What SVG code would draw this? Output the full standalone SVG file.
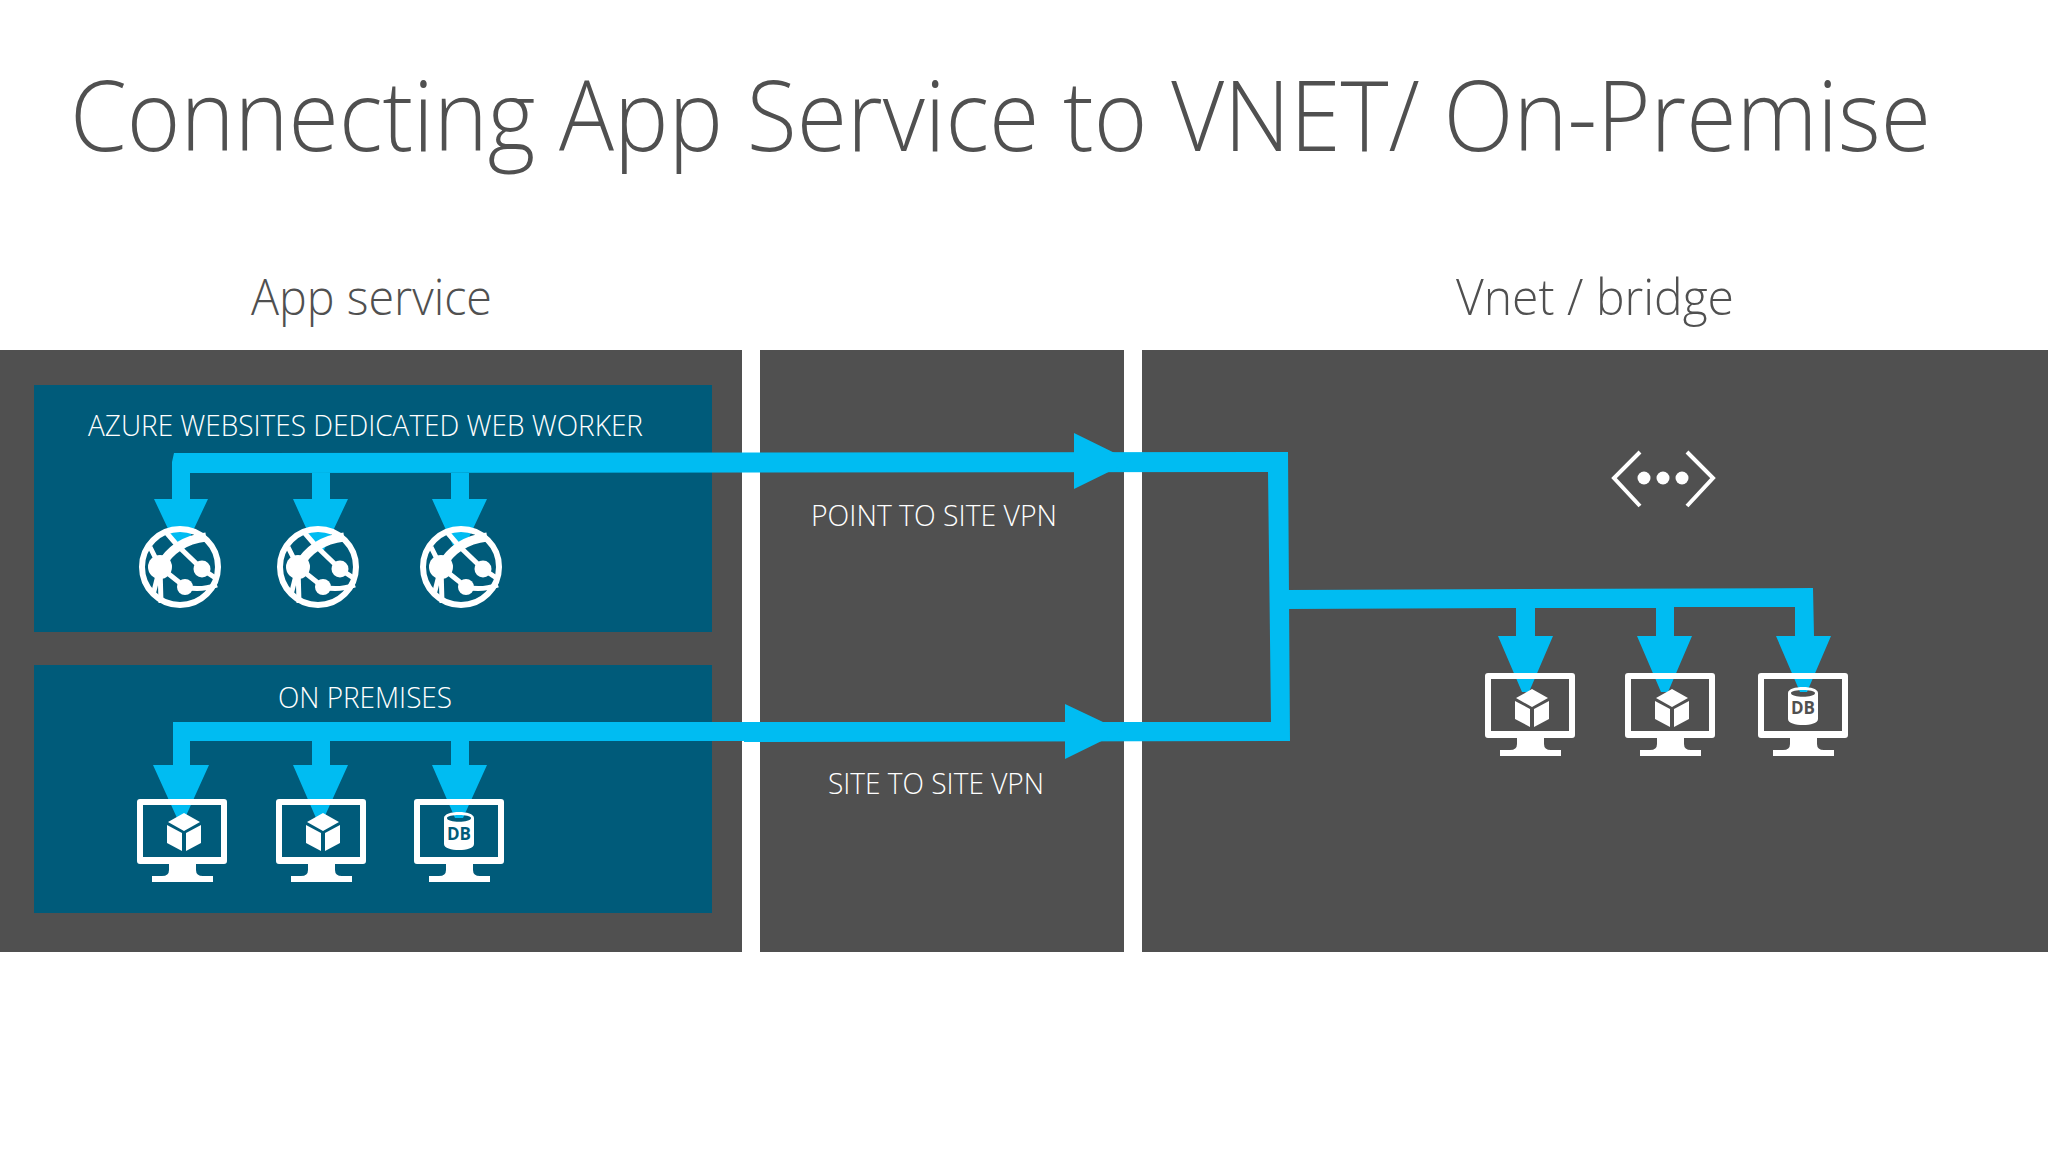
<svg xmlns="http://www.w3.org/2000/svg" width="2048" height="1152" viewBox="0 0 2048 1152">
<style>
.t{font-family:"Open Sans","Noto Sans","Liberation Sans",sans-serif;font-weight:300}
.title{font-size:98px;fill:#505050}
.sub{font-size:49px;fill:#505050}
.lb{font-size:30px;fill:#fff}
.db{font-family:"Open Sans","Liberation Sans",sans-serif;font-weight:700;font-size:17px;text-anchor:middle}
.panel{fill:#505050}
.box{fill:#005b7a}
.flow{fill:#00bcf2}
.icon{fill:#fff}
</style>
<defs>
<g id="monitor"><path class="icon" fill-rule="evenodd" d="M3 0H87a3 3 0 0 1 3 3V62a3 3 0 0 1-3 3H59V71q0 6 7 6H76V83H15V77H25q7 0 7-6V65H3a3 3 0 0 1-3-3V3a3 3 0 0 1 3-3ZM6 6V58H84V6Z"/></g>
<g id="cube"><path class="icon" d="M0-19L16-10 0-1-16-10ZM-17-7L-2 1V19L-17 11ZM17-7V11L2 19V1Z"/></g>
<g id="db"><path class="icon" fill-rule="evenodd" d="M-15-13C-15-21 15-21 15-13V13C15 21-15 21-15 13ZM-12-13C-12-8 12-8 12-13 12-17-12-17-12-13Z"/></g>
<g id="globe"><circle r="38" fill="none" stroke="#fff" stroke-width="6"/><path fill="none" stroke="#fff" stroke-width="5" d="M-15-36L-3-22 22 2 37 12M-20 0L5 20Q20 24 37 18M-20 0L-30-20M-20 0L-27 28M-20 0L-19 36"/><path fill="none" stroke="#fff" stroke-width="9" d="M-20 0Q-6-26 26-30"/><circle cx="-20" cy="0" r="12" class="icon"/><circle cx="22" cy="2" r="8.5" class="icon"/><circle cx="5" cy="20" r="8" class="icon"/></g>
</defs>
<rect width="2048" height="1152" fill="#fff"/>
<text class="t title" x="70" y="151" textLength="1861" lengthAdjust="spacingAndGlyphs">Connecting App Service to VNET/ On-Premise</text>
<text class="t sub" x="251" y="315" textLength="241" lengthAdjust="spacingAndGlyphs">App service</text>
<text class="t sub" x="1456" y="315" textLength="278" lengthAdjust="spacingAndGlyphs">Vnet / bridge</text>
<g id="panel-left"><rect class="panel" x="0" y="350" width="742" height="602"/></g>
<g id="panel-middle"><rect class="panel" x="760" y="350" width="364" height="602"/></g>
<g id="panel-right"><rect class="panel" x="1142" y="350" width="906" height="602"/></g>
<g id="box-web-worker"><rect class="box" x="34" y="385" width="678" height="247"/><text class="t lb" x="88" y="436" textLength="555" lengthAdjust="spacingAndGlyphs">AZURE WEBSITES DEDICATED WEB WORKER</text></g>
<g id="box-on-premises"><rect class="box" x="34" y="665" width="678" height="248"/><text class="t lb" x="278" y="708" textLength="174" lengthAdjust="spacingAndGlyphs">ON PREMISES</text></g>
<g id="connectors" class="flow">
<path d="M174 453L1288 452 1290 741 744 742 744 722 1271 722 1268 472 190 473V499H208L184 550H178L154 499H172V462Z"/>
<path d="M312 473H330V499H348L324 550H316L293 499H312ZM451 473H469V499H487L463 550H455L432 499H451Z"/>
<path d="M1074 433L1131 461 1074 489ZM1065 704L1122 731 1065 759Z"/>
<path d="M173 722H760V741H190V765H209L185 818H177L153 765H173ZM312 741H330V765H348L324 818H316L293 765H312ZM451 741H469V765H487L463 818H455L432 765H451Z"/>
<path d="M1286 590L1813 588 1814 636H1831L1807 692H1800L1776 636H1795V607H1674V636H1692L1668 692H1661L1637 636H1656V608H1535V636H1553L1529 692H1522L1498 636H1516V608L1286 609Z"/>
</g>
<g id="node-globe-1"><use href="#globe" x="180" y="567"/></g>
<g id="node-globe-2"><use href="#globe" x="318" y="567"/></g>
<g id="node-globe-3"><use href="#globe" x="461" y="567"/></g>
<g id="node-onprem-1"><use href="#monitor" x="137" y="799"/><use href="#cube" x="184" y="832"/></g>
<g id="node-onprem-2"><use href="#monitor" x="276" y="799"/><use href="#cube" x="323" y="832"/></g>
<g id="node-onprem-3"><use href="#monitor" x="414" y="799"/><use href="#db" x="459" y="831"/><text class="db" x="459" y="840" fill="#005b7a">DB</text></g>
<g id="node-vnet-1"><use href="#monitor" x="1485" y="673"/><use href="#cube" x="1532" y="708"/></g>
<g id="node-vnet-2"><use href="#monitor" x="1625" y="673"/><use href="#cube" x="1672" y="708"/></g>
<g id="node-vnet-3"><use href="#monitor" x="1758" y="673"/><use href="#db" x="1803" y="706"/><text class="db" x="1803" y="714" fill="#505050">DB</text></g>
<g id="node-gateway"><path fill="none" stroke="#fff" stroke-width="4" d="M1640 452L1614 478 1640 506M1687 452L1713 478 1687 506"/><circle class="icon" cx="1644" cy="478" r="6.5"/><circle class="icon" cx="1663" cy="478" r="6.5"/><circle class="icon" cx="1682" cy="478" r="6.5"/></g>
<g id="labels"><text class="t lb" x="811" y="526" textLength="246" lengthAdjust="spacingAndGlyphs">POINT TO SITE VPN</text><text class="t lb" x="828" y="794" textLength="216" lengthAdjust="spacingAndGlyphs">SITE TO SITE VPN</text></g>
</svg>
